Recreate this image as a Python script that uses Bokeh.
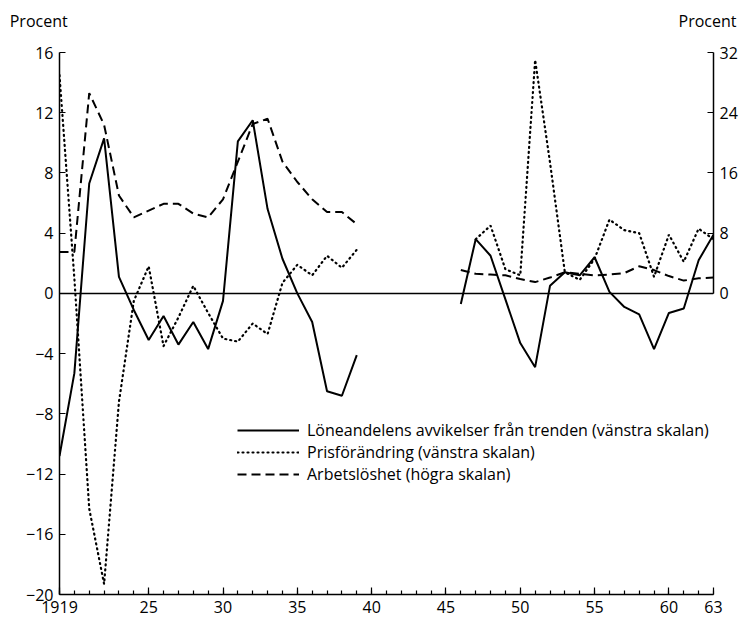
import math
from bokeh.plotting import figure
from bokeh.models import (LinearAxis, Range1d, FixedTicker, Span, Legend,
                          LegendItem, ColumnDataSource)
from bokeh.embed import file_html
from bokeh.resources import INLINE

nan = math.nan

years = list(range(1919, 1964))

# Löneandelens avvikelser från trenden (vänstra skalan)
wage_share = [-10.8, -5.3, 7.3, 10.3, 1.1, -1.1, -3.1, -1.5, -3.4, -1.9,
              -3.7, -0.5, 10.1, 11.5, 5.6, 2.3, 0.0, -1.9, -6.5, -6.8,
              -4.1,
              nan, nan, nan, nan, nan, nan,
              -0.7, 3.6, 2.5, -0.4, -3.3, -4.9, 0.5, 1.4, 1.2, 2.4,
              0.1, -0.9, -1.4, -3.7, -1.3, -1.0, 2.2, 3.9]

# Prisförändring (vänstra skalan)
price_change = [14.5, 1.0, -14.3, -19.3, -7.2, -0.5, 1.8, -3.5, -1.6, 0.5,
                -1.3, -3.0, -3.2, -2.0, -2.7, 0.7, 1.9, 1.2, 2.5, 1.7,
                2.9,
                nan, nan, nan, nan, nan, nan,
                nan, 3.6, 4.5, 1.6, 1.2, 15.5, 8.7, 1.4, 0.9, 2.3,
                4.9, 4.2, 4.0, 1.1, 3.9, 2.1, 4.3, 3.6]

# Arbetslöshet (högra skalan)
unemployment = [5.5, 5.5, 26.6, 22.4, 13.0, 10.1, 11.0, 11.9, 11.9, 10.6,
                10.1, 12.5, 17.5, 22.5, 23.2, 17.5, 14.8, 12.5, 10.8, 10.8,
                9.2,
                nan, nan, nan, nan, nan, nan,
                3.1, 2.6, 2.5, 2.4, 1.9, 1.5, 2.1, 2.8, 2.6, 2.4,
                2.5, 2.7, 3.6, 3.1, 2.3, 1.7, 2.0, 2.1]

left_ticks = [-20, -16, -12, -8, -4, 0, 4, 8, 12, 16]
right_ticks = [0, 8, 16, 24, 32]
x_major = [1919, 1925, 1930, 1935, 1940, 1945, 1950, 1955, 1960, 1963]
x_labels = ["1919", "25", "30", "35", "40", "45", "50", "55", "60", "63"]

legend_labels = ["Löneandelens avvikelser från trenden (vänstra skalan)",
                 "Prisförändring (vänstra skalan)",
                 "Arbetslöshet (högra skalan)"]
unit_label = "Procent"
# anchors of the two "Procent" headings along the year axis
unit_pos = [1919, 1962.6]
# the left heading is padded so that it sits left of the axis
unit_texts = [unit_label + "\u00a0" * 10, unit_label]

FONT = "Open Sans"
FS = "16px"

src = ColumnDataSource(dict(year=years, wage=wage_share, price=price_change,
                            unemp=unemployment))

p = figure(width=740, height=620,
           x_range=Range1d(years[0], years[-1]),
           y_range=Range1d(left_ticks[0], left_ticks[-1]),
           output_backend="svg", toolbar_location=None,
           min_border_left=59, min_border_right=25,
           min_border_top=52, min_border_bottom=26)
p.extra_y_ranges = {"right": Range1d(2 * left_ticks[0], 2 * left_ticks[-1])}
p.outline_line_color = None
p.xgrid.visible = False
p.ygrid.visible = False
p.background_fill_color = "white"
p.border_fill_color = "white"

# zero line
p.add_layout(Span(location=0, dimension="width", line_color="black",
                  line_width=1.5))

r_wage = p.line("year", "wage", source=src, line_color="black",
                line_width=2)
r_price = p.line("year", "price", source=src, line_color="black",
                 line_width=2.2, line_dash="1 4", line_cap="round")
r_unemp = p.line("year", "unemp", source=src, line_color="black",
                 line_width=2, line_dash="9 5", y_range_name="right")

# bottom axis
xa = p.xaxis[0]
xa.ticker = FixedTicker(ticks=x_major, minor_ticks=years)
xa.major_label_overrides = {y: l for y, l in zip(x_major, x_labels)}
xa.major_tick_in = 7
xa.major_tick_out = 0
xa.minor_tick_in = 4
xa.minor_tick_out = 0
xa.major_label_standoff = 6
xa.axis_line_width = 1.5
xa.major_tick_line_width = 1.2
xa.minor_tick_line_width = 1.2

# left axis
ya = p.yaxis[0]
ya.ticker = FixedTicker(ticks=left_ticks)
ya.major_label_overrides = {t: str(t).replace("-", "\u2212") for t in left_ticks}
ya.major_tick_in = 6
ya.major_tick_out = 0
ya.minor_tick_line_color = None
ya.major_label_standoff = 6
ya.axis_line_width = 1.5

# right axis
ra = LinearAxis(y_range_name="right", ticker=FixedTicker(ticks=right_ticks),
                bounds=(right_ticks[0], right_ticks[-1]))
ra.major_tick_in = 6
ra.major_tick_out = 0
ra.minor_tick_line_color = None
ra.major_label_standoff = 6
ra.axis_line_width = 1.5
p.add_layout(ra, "right")

# "Procent" headings as labels of an invisible axis above the plot
ta = LinearAxis(ticker=FixedTicker(ticks=unit_pos),
                major_label_overrides={u: t for u, t in zip(unit_pos, unit_texts)})
ta.axis_line_color = None
ta.major_tick_line_color = None
ta.minor_tick_line_color = None
ta.major_tick_in = 0
ta.major_tick_out = 0
ta.major_label_standoff = 21
p.add_layout(ta, "above")

for ax in (xa, ya, ra, ta):
    ax.major_label_text_font = FONT
    ax.major_label_text_font_size = FS
    ax.major_label_text_color = "black"
for ax in (xa, ya, ra):
    ax.axis_line_color = "black"
    ax.major_tick_line_color = "black"

legend = Legend(items=[LegendItem(label=legend_labels[0], renderers=[r_wage]),
                       LegendItem(label=legend_labels[1], renderers=[r_price]),
                       LegendItem(label=legend_labels[2], renderers=[r_unemp])],
                location=(178, 109), orientation="vertical",
                glyph_width=62, glyph_height=22, label_height=22,
                spacing=0, padding=0, margin=0, label_standoff=8,
                border_line_color=None, background_fill_alpha=0,
                label_text_font=FONT, label_text_font_size=FS,
                label_text_color="black")
p.add_layout(legend)

open("out.html", "w").write(file_html(p, INLINE))
